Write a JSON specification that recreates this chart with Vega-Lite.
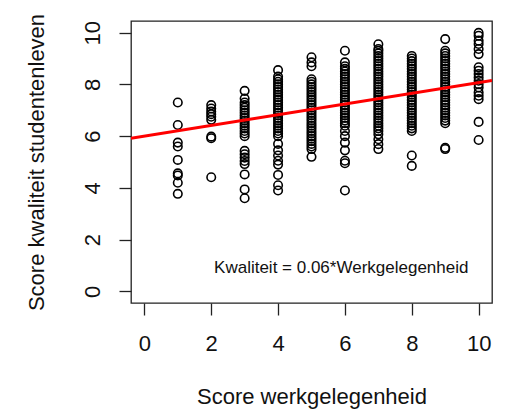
{
  "$schema": "https://vega.github.io/schema/vega-lite/v6.json",
  "width": 361,
  "height": 282,
  "autosize": {"type": "none"},
  "padding": {"left": 131, "top": 21, "right": 14, "bottom": 107},
  "background": "white",
  "config": {
    "view": {"stroke": "#222", "strokeWidth": 1.3},
    "font": "Liberation Sans",
    "axis": {"grid": false, "domain": false, "tickSize": 12, "tickWidth": 1.3, "tickColor": "#222", "labelFontSize": 22, "labelColor": "#111", "titleFontSize": 22, "titleFontWeight": "normal", "titleColor": "#111", "labelFont": "Liberation Sans", "titleFont": "Liberation Sans"}
  },
  "layer": [
    {
      "data": {"values": [
        {"w":1,"k":7.3},{"w":1,"k":6.43},{"w":1,"k":5.75},{"w":1,"k":5.6},{"w":1,"k":5.08},{"w":1,"k":4.56},{"w":1,"k":4.48},{"w":1,"k":4.2},{"w":1,"k":3.77},
        {"w":2,"k":7.2},{"w":2,"k":7.07},{"w":2,"k":6.95},{"w":2,"k":6.85},{"w":2,"k":6.75},{"w":2,"k":6.63},{"w":2,"k":5.98},{"w":2,"k":5.92},{"w":2,"k":4.41},
        {"w":3,"k":7.75},{"w":3,"k":7.45},{"w":3,"k":7.3},{"w":3,"k":7.2},{"w":3,"k":7.1},{"w":3,"k":7.0},{"w":3,"k":6.9},{"w":3,"k":6.8},{"w":3,"k":6.7},{"w":3,"k":6.6},{"w":3,"k":6.5},{"w":3,"k":6.4},{"w":3,"k":6.3},{"w":3,"k":6.2},{"w":3,"k":6.1},{"w":3,"k":6.0},{"w":3,"k":5.43},{"w":3,"k":5.3},{"w":3,"k":5.17},{"w":3,"k":5.04},{"w":3,"k":4.92},{"w":3,"k":4.52},{"w":3,"k":3.94},{"w":3,"k":3.6},
        {"w":4,"k":8.55},{"w":4,"k":8.3},{"w":4,"k":8.2},{"w":4,"k":8.1},{"w":4,"k":8.0},{"w":4,"k":7.9},{"w":4,"k":7.8},{"w":4,"k":7.7},{"w":4,"k":7.6},{"w":4,"k":7.5},{"w":4,"k":7.4},{"w":4,"k":7.3},{"w":4,"k":7.2},{"w":4,"k":7.1},{"w":4,"k":7.0},{"w":4,"k":6.9},{"w":4,"k":6.8},{"w":4,"k":6.7},{"w":4,"k":6.6},{"w":4,"k":6.5},{"w":4,"k":6.4},{"w":4,"k":6.3},{"w":4,"k":6.2},{"w":4,"k":6.1},{"w":4,"k":6.0},{"w":4,"k":5.7},{"w":4,"k":5.45},{"w":4,"k":5.25},{"w":4,"k":5.05},{"w":4,"k":4.9},{"w":4,"k":4.5},{"w":4,"k":4.1},{"w":4,"k":3.9},
        {"w":5,"k":9.05},{"w":5,"k":8.85},{"w":5,"k":8.7},{"w":5,"k":8.2},{"w":5,"k":8.1},{"w":5,"k":8.0},{"w":5,"k":7.9},{"w":5,"k":7.8},{"w":5,"k":7.7},{"w":5,"k":7.6},{"w":5,"k":7.5},{"w":5,"k":7.4},{"w":5,"k":7.3},{"w":5,"k":7.2},{"w":5,"k":7.1},{"w":5,"k":7.0},{"w":5,"k":6.9},{"w":5,"k":6.8},{"w":5,"k":6.7},{"w":5,"k":6.6},{"w":5,"k":6.5},{"w":5,"k":6.4},{"w":5,"k":6.3},{"w":5,"k":6.2},{"w":5,"k":6.1},{"w":5,"k":6.0},{"w":5,"k":5.9},{"w":5,"k":5.8},{"w":5,"k":5.7},{"w":5,"k":5.6},{"w":5,"k":5.5},{"w":5,"k":5.2},
        {"w":6,"k":9.3},{"w":6,"k":8.85},{"w":6,"k":8.7},{"w":6,"k":8.6},{"w":6,"k":8.5},{"w":6,"k":8.4},{"w":6,"k":8.3},{"w":6,"k":8.2},{"w":6,"k":8.1},{"w":6,"k":8.0},{"w":6,"k":7.9},{"w":6,"k":7.8},{"w":6,"k":7.7},{"w":6,"k":7.6},{"w":6,"k":7.5},{"w":6,"k":7.4},{"w":6,"k":7.3},{"w":6,"k":7.2},{"w":6,"k":7.1},{"w":6,"k":7.0},{"w":6,"k":6.9},{"w":6,"k":6.8},{"w":6,"k":6.7},{"w":6,"k":6.6},{"w":6,"k":6.5},{"w":6,"k":6.4},{"w":6,"k":6.2},{"w":6,"k":6.0},{"w":6,"k":5.75},{"w":6,"k":5.45},{"w":6,"k":5.05},{"w":6,"k":4.95},{"w":6,"k":3.9},
        {"w":7,"k":9.55},{"w":7,"k":9.37},{"w":7,"k":9.3},{"w":7,"k":9.2},{"w":7,"k":9.1},{"w":7,"k":9.0},{"w":7,"k":8.9},{"w":7,"k":8.8},{"w":7,"k":8.7},{"w":7,"k":8.6},{"w":7,"k":8.5},{"w":7,"k":8.4},{"w":7,"k":8.3},{"w":7,"k":8.2},{"w":7,"k":8.1},{"w":7,"k":8.0},{"w":7,"k":7.9},{"w":7,"k":7.8},{"w":7,"k":7.7},{"w":7,"k":7.6},{"w":7,"k":7.5},{"w":7,"k":7.4},{"w":7,"k":7.3},{"w":7,"k":7.2},{"w":7,"k":7.1},{"w":7,"k":7.0},{"w":7,"k":6.9},{"w":7,"k":6.8},{"w":7,"k":6.7},{"w":7,"k":6.6},{"w":7,"k":6.5},{"w":7,"k":6.4},{"w":7,"k":6.3},{"w":7,"k":6.2},{"w":7,"k":6.07},{"w":7,"k":5.88},{"w":7,"k":5.69},{"w":7,"k":5.5},
        {"w":8,"k":9.1},{"w":8,"k":9.0},{"w":8,"k":8.9},{"w":8,"k":8.8},{"w":8,"k":8.7},{"w":8,"k":8.6},{"w":8,"k":8.5},{"w":8,"k":8.4},{"w":8,"k":8.3},{"w":8,"k":8.2},{"w":8,"k":8.1},{"w":8,"k":8.0},{"w":8,"k":7.9},{"w":8,"k":7.8},{"w":8,"k":7.7},{"w":8,"k":7.6},{"w":8,"k":7.5},{"w":8,"k":7.4},{"w":8,"k":7.3},{"w":8,"k":7.2},{"w":8,"k":7.1},{"w":8,"k":7.0},{"w":8,"k":6.9},{"w":8,"k":6.8},{"w":8,"k":6.7},{"w":8,"k":6.6},{"w":8,"k":6.5},{"w":8,"k":6.4},{"w":8,"k":6.3},{"w":8,"k":6.2},{"w":8,"k":5.25},{"w":8,"k":4.85},
        {"w":9,"k":9.75},{"w":9,"k":9.3},{"w":9,"k":9.2},{"w":9,"k":9.1},{"w":9,"k":9.0},{"w":9,"k":8.9},{"w":9,"k":8.8},{"w":9,"k":8.7},{"w":9,"k":8.6},{"w":9,"k":8.5},{"w":9,"k":8.4},{"w":9,"k":8.3},{"w":9,"k":8.2},{"w":9,"k":8.1},{"w":9,"k":8.0},{"w":9,"k":7.9},{"w":9,"k":7.8},{"w":9,"k":7.7},{"w":9,"k":7.6},{"w":9,"k":7.5},{"w":9,"k":7.4},{"w":9,"k":7.3},{"w":9,"k":7.2},{"w":9,"k":7.1},{"w":9,"k":7.0},{"w":9,"k":6.9},{"w":9,"k":6.8},{"w":9,"k":6.7},{"w":9,"k":6.6},{"w":9,"k":6.5},{"w":9,"k":5.55},{"w":9,"k":5.5},
        {"w":10,"k":9.99},{"w":10,"k":9.88},{"w":10,"k":9.69},{"w":10,"k":9.56},{"w":10,"k":9.37},{"w":10,"k":9.17},{"w":10,"k":8.66},{"w":10,"k":8.53},{"w":10,"k":8.4},{"w":10,"k":8.27},{"w":10,"k":8.14},{"w":10,"k":8.01},{"w":10,"k":7.88},{"w":10,"k":7.69},{"w":10,"k":7.56},{"w":10,"k":7.43},{"w":10,"k":6.55},{"w":10,"k":5.85}
      ]},
      "mark": {"type": "point", "shape": "circle", "filled": false, "color": "black", "size": 72, "strokeWidth": 1.6, "opacity": 1, "clip": true},
      "encoding": {
        "x": {"field": "w", "type": "quantitative", "scale": {"domain": [-0.4, 10.4], "nice": false, "zero": false},
              "axis": {"values": [0, 2, 4, 6, 8, 10], "labelPadding": 18, "title": "Score werkgelegenheid", "titlePadding": 32}},
        "y": {"field": "k", "type": "quantitative", "scale": {"domain": [-0.45, 10.45], "nice": false, "zero": false},
              "axis": {"values": [0, 2, 4, 6, 8, 10], "labelAngle": -90, "labelAlign": "center", "labelBaseline": "bottom", "labelPadding": 15, "title": "Score kwaliteit studentenleven", "titlePadding": 33}}
      }
    },
    {
      "data": {"values": [{"w": -0.4, "k": 5.917}, {"w": 10.4, "k": 8.153}]},
      "mark": {"type": "line", "color": "red", "strokeWidth": 3, "clip": true},
      "encoding": {
        "x": {"field": "w", "type": "quantitative"},
        "y": {"field": "k", "type": "quantitative"}
      }
    },
    {
      "data": {"values": [{"label": "Kwaliteit = 0.06*Werkgelegenheid"}]},
      "mark": {"type": "text", "fontSize": 17, "align": "center", "baseline": "middle", "color": "#111", "font": "Liberation Sans"},
      "encoding": {
        "x": {"datum": 5.89, "type": "quantitative"},
        "y": {"datum": 0.89, "type": "quantitative"},
        "text": {"field": "label"}
      }
    }
  ]
}
